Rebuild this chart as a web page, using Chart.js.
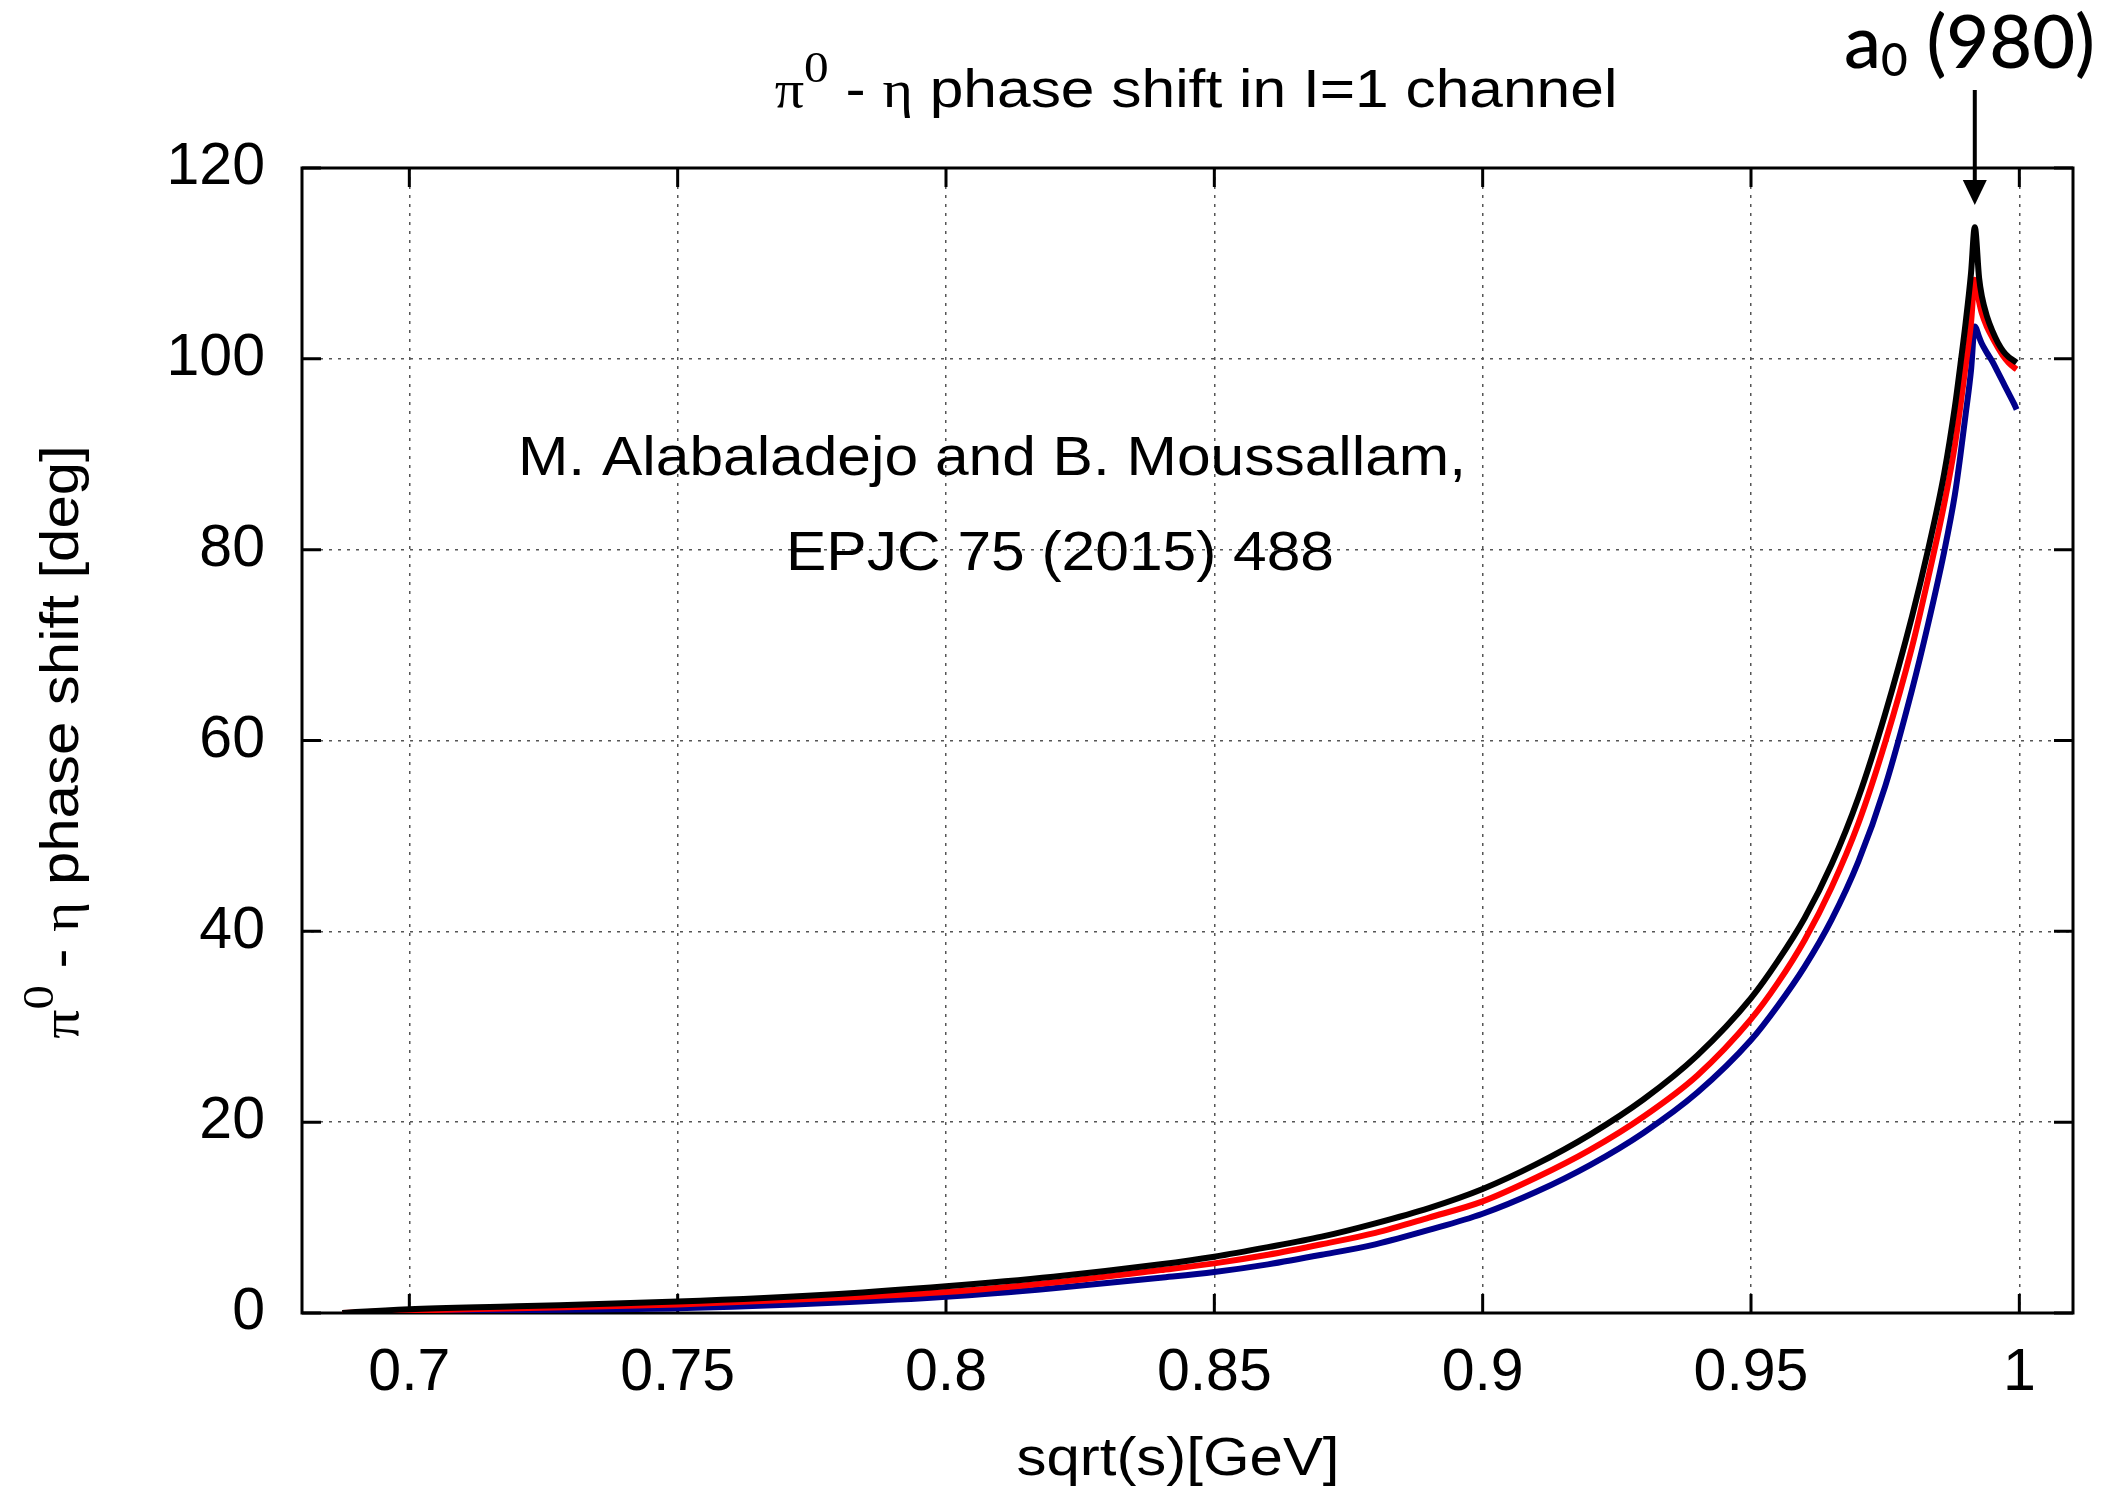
<!DOCTYPE html>
<html>
<head>
<meta charset="utf-8">
<script src="https://cdn.jsdelivr.net/npm/chart.js@4.4.1/dist/chart.umd.min.js"></script>
<style>
  html, body { margin: 0; padding: 0; background: #ffffff; }
  #wrap { width: 2106px; height: 1498px; }
</style>
</head>
<body>
<div id="wrap"><canvas id="c" width="2106" height="1498"></canvas></div>
<script>
// ---- data ----
const xValues = [0.6875,0.69,0.70,0.72,0.75,0.78,0.80,0.82,0.84,0.85,0.86,0.87,0.88,0.89,0.90,0.91,0.92,0.93,0.94,0.95,0.955,0.96,0.965,0.97,0.975,0.98,0.983,0.986,0.988,0.989,0.990,0.991,0.9917,0.9925,0.993,0.994,0.995,0.996,0.997,0.998,0.999,0.9995];
const blackPhase = [0,0.1,0.4,0.7,1.2,2.0,2.8,3.8,5.1,5.9,6.9,8.0,9.4,11.0,13.0,15.6,18.7,22.4,27.0,33.0,36.9,41.4,47.0,54.0,62.8,73.0,80.0,88.0,95.0,99.3,103.8,109.0,113.8,108.5,106.6,104.4,102.9,101.7,100.8,100.2,99.8,99.6];
const redPhase   = [0,0.05,0.25,0.5,0.9,1.6,2.2,3.2,4.5,5.2,6.1,7.2,8.4,10.0,11.7,14.2,17.1,20.6,24.9,30.8,34.6,39.1,44.6,51.3,59.8,69.8,77.0,84.8,91.0,95.0,99.3,103.8,108.3,106.0,104.8,103.3,102.2,101.2,100.3,99.6,99.1,98.9];
const bluePhase  = [0,0.0,0.1,0.3,0.5,1.1,1.7,2.6,3.7,4.3,5.1,6.1,7.2,8.7,10.4,12.7,15.5,18.9,23.1,28.6,32.2,36.3,41.2,47.3,55.2,65.3,72.2,79.8,85.8,89.8,94.2,98.8,103.4,102.3,101.6,100.6,99.7,98.6,97.5,96.4,95.3,94.7];
const xTickValues = [0.7,0.75,0.8,0.85,0.9,0.95,1.0];
const xTickLabels = ['0.7','0.75','0.8','0.85','0.9','0.95','1'];
const yTickValues = [0,20,40,60,80,100,120];
const yTickLabels = ['0','20','40','60','80','100','120'];
const xRange = [0.68, 1.01];
const yRange = [0, 120];

const SANS = '"Liberation Sans", Arial, Helvetica, sans-serif';
const SERIF = '"Liberation Serif", "Times New Roman", serif';

function pts(ys) { return xValues.map((v, i) => ({ x: v, y: ys[i] })); }

// draw a sequence of text runs, optionally stretched horizontally
function drawRuns(ctx, runs, cx, baseY, align, sx) {
  let w = 0;
  runs.forEach(r => { ctx.font = r.font; r.w = ctx.measureText(r.t).width; w += r.w; });
  const total = w * sx;
  let start = align === 'center' ? cx - total / 2 : (align === 'right' ? cx - total : cx);
  ctx.save();
  ctx.translate(start, baseY);
  ctx.scale(sx, 1);
  ctx.textBaseline = 'alphabetic';
  ctx.textAlign = 'left';
  ctx.fillStyle = '#000';
  let px = 0;
  runs.forEach(r => { ctx.font = r.font; ctx.fillText(r.t, px, r.dy || 0); px += r.w; });
  ctx.restore();
}

const decor = {
  id: 'decor',
  beforeDraw(chart) {
    const ctx = chart.ctx;
    ctx.save();
    ctx.fillStyle = '#ffffff';
    ctx.fillRect(0, 0, chart.width, chart.height);
    ctx.restore();
  },
  beforeDatasetsDraw(chart) {
    const { ctx, chartArea: a, scales: { x, y } } = chart;
    ctx.save();
    ctx.strokeStyle = '#000';
    ctx.lineWidth = 3;
    ctx.strokeRect(a.left, a.top, a.right - a.left, a.bottom - a.top);
    const tl = 19;
    ctx.beginPath();
    x.ticks.forEach(t => {
      const px = x.getPixelForValue(t.value);
      ctx.moveTo(px, a.bottom); ctx.lineTo(px, a.bottom - tl);
      ctx.moveTo(px, a.top); ctx.lineTo(px, a.top + tl);
    });
    y.ticks.forEach(t => {
      const py = y.getPixelForValue(t.value);
      ctx.moveTo(a.left, py); ctx.lineTo(a.left + tl, py);
      ctx.moveTo(a.right, py); ctx.lineTo(a.right - tl, py);
    });
    ctx.stroke();
    ctx.restore();
  },
  afterDraw(chart) {
    const { ctx, scales: { x } } = chart;
    // main title
    drawRuns(ctx, [
      { t: 'π', font: '52px ' + SERIF },
      { t: '0', font: '44px ' + SERIF, dy: -25 },
      { t: ' - ', font: '54px ' + SANS },
      { t: 'η', font: '52px ' + SERIF },
      { t: ' phase shift in I=1 channel', font: '54px ' + SANS }
    ], 1196, 107, 'center', 1.12);
    // x axis title
    drawRuns(ctx, [{ t: 'sqrt(s)[GeV]', font: '54px ' + SANS }], 1178, 1475, 'center', 1.11);
    // y axis title (rotated)
    ctx.save();
    ctx.translate(78, 742);
    ctx.rotate(-Math.PI / 2);
    drawRuns(ctx, [
      { t: 'π', font: '52px ' + SERIF },
      { t: '0', font: '44px ' + SERIF, dy: -25 },
      { t: ' - ', font: '54px ' + SANS },
      { t: 'η', font: '52px ' + SERIF },
      { t: ' phase shift [deg]', font: '54px ' + SANS }
    ], 0, 0, 'center', 1.11);
    ctx.restore();
    // reference annotation
    drawRuns(ctx, [{ t: 'M. Alabaladejo and B. Moussallam,', font: '56px ' + SANS }], 992, 475, 'center', 1.08);
    drawRuns(ctx, [{ t: 'EPJC 75 (2015) 488', font: '56px ' + SANS }], 1060, 570, 'center', 1.08);
    // a0(980) marker
    const peakIdx = blackPhase.indexOf(Math.max(...blackPhase));
    const ax = x.getPixelForValue(xValues[peakIdx]);
    drawRuns(ctx, [
      { t: 'a', font: '500 74px Lato, ' + SANS },
      { t: '0', font: '500 46px Lato, ' + SANS, dy: 8 },
      { t: ' (980)', font: '500 74px Lato, ' + SANS }
    ], 2095, 68, 'right', 1.0);
    ctx.save();
    ctx.strokeStyle = '#000';
    ctx.fillStyle = '#000';
    ctx.lineWidth = 4;
    ctx.beginPath();
    ctx.moveTo(ax, 90); ctx.lineTo(ax, 182);
    ctx.stroke();
    ctx.beginPath();
    ctx.moveTo(ax - 12, 180); ctx.lineTo(ax + 12, 180); ctx.lineTo(ax, 205);
    ctx.closePath();
    ctx.fill();
    ctx.restore();
  }
};

const lineStyle = (color) => ({
  borderColor: color, backgroundColor: color, borderWidth: 6,
  pointRadius: 0, pointHoverRadius: 0, fill: false,
  cubicInterpolationMode: 'monotone', borderJoinStyle: 'round', borderCapStyle: 'butt'
});

new Chart(document.getElementById('c'), {
  type: 'line',
  data: {
    datasets: [
      Object.assign({ label: 'black', data: pts(blackPhase) }, lineStyle('#000000')),
      Object.assign({ label: 'red', data: pts(redPhase) }, lineStyle('#ff0000')),
      Object.assign({ label: 'blue', data: pts(bluePhase) }, lineStyle('#00008b'))
    ]
  },
  options: {
    responsive: false,
    devicePixelRatio: 1,
    animation: false,
    events: [],
    layout: { padding: { left: 0, right: 33, top: 168, bottom: 0 } },
    plugins: { legend: { display: false }, title: { display: false }, tooltip: { enabled: false } },
    scales: {
      x: {
        type: 'linear', min: xRange[0], max: xRange[1],
        afterBuildTicks: (s) => { s.ticks = xTickValues.map(v => ({ value: v })); },
        afterFit: (s) => { s.height = 185; },
        ticks: {
          callback: (v, i) => xTickLabels[i],
          font: { family: SANS, size: 59 }, color: '#000', padding: 25, maxRotation: 0, autoSkip: false
        },
        grid: { color: '#555', lineWidth: 1.5, drawTicks: false },
        border: { display: false, dash: [3, 6] }
      },
      y: {
        type: 'linear', min: yRange[0], max: yRange[1],
        afterBuildTicks: (s) => { s.ticks = yTickValues.map(v => ({ value: v })); },
        afterFit: (s) => { s.width = 302; },
        ticks: {
          callback: (v, i) => yTickLabels[i],
          font: { family: SANS, size: 59 }, color: '#000', padding: 37, autoSkip: false
        },
        grid: { color: '#555', lineWidth: 1.5, drawTicks: false },
        border: { display: false, dash: [3, 6] }
      }
    }
  },
  plugins: [decor]
});
</script>
</body>
</html>
